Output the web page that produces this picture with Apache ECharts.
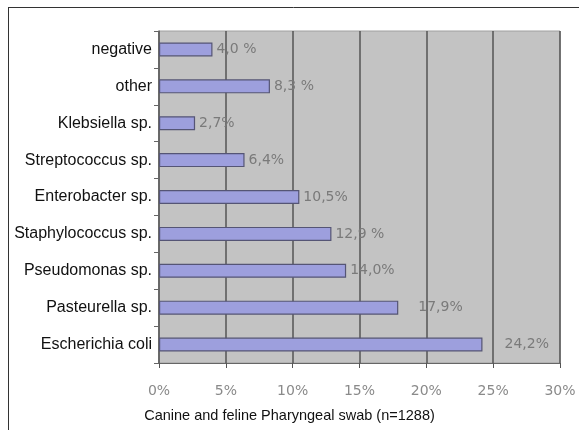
<!DOCTYPE html>
<html><head><meta charset="utf-8">
<script src="https://cdn.jsdelivr.net/npm/echarts@6/dist/echarts.min.js"></script>
<style>html,body{margin:0;padding:0;background:#fff}#c{width:579px;height:430px}</style>
</head><body><div id="c"></div>
<script>
var categories = ["Escherichia coli","Pasteurella sp.","Pseudomonas sp.","Staphylococcus sp.","Enterobacter sp.","Streptococcus sp.","Klebsiella sp.","other","negative"];
var values = [24.2, 17.9, 14.0, 12.9, 10.5, 6.4, 2.7, 8.3, 4.0];
var valueLabels = ["24,2%","17,9%","14,0%","12,9 %","10,5%","6,4%","2,7%","8,3 %","4,0 %"];
var tickLabels = ["0%","5%","10%","15%","20%","25%","30%"];
var xTitle = "Canine and feline Pharyngeal swab (n=1288)";

// label spacing (style only)
var gapStyle = {0: 22, 1: 20};
var seriesData = values.map(function (v, i) {
  var item = {value: v};
  if (gapStyle[i] != null) item.label = {distance: gapStyle[i]};
  return item;
});

var chart = echarts.init(document.getElementById('c'));
chart.setOption({
  animation: false,
  graphic: [
    {type:'line', shape:{x1:8,y1:7.5,x2:579,y2:7.5}, style:{stroke:'#333',lineWidth:1}},
    {type:'line', shape:{x1:8.5,y1:7,x2:8.5,y2:430}, style:{stroke:'#333',lineWidth:1}},
    {type:'text', left:'center', top:408, style:{text:xTitle, font:'14.5px Arial, Liberation Sans, sans-serif', fill:'#111'}}
  ],
  grid: {left:159, right:19, top:31, bottom:67, show:true, backgroundColor:'#c3c3c3', borderColor:'#a0a0a0', borderWidth:1},
  xAxis: {
    type:'value', min:0, max:30, interval:5,
    axisLine:{show:true, lineStyle:{color:'#666'}},
    axisTick:{show:true, length:5, lineStyle:{color:'#555'}},
    axisLabel:{margin:21, color:'#8a8a8a', fontFamily:'DejaVu Sans, Verdana, sans-serif', fontSize:14,
      formatter:function(v){return tickLabels[Math.round(v/5)];}},
    splitLine:{show:true, lineStyle:{color:'#555', width:1.5}}
  },
  yAxis: {
    type:'category', data:categories,
    axisLine:{show:true, lineStyle:{color:'#666', width:1.5}},
    axisTick:{show:true, length:5, lineStyle:{color:'#666'}},
    axisLabel:{margin:7, color:'#111', fontFamily:'Arial, Liberation Sans, sans-serif', fontSize:16}
  },
  series: [{
    type:'bar', data:seriesData, barWidth:14,
    itemStyle:{color:'#9d9fdd', borderColor:'#555575', borderWidth:1.2},
    label:{show:true, position:'right', distance:4, color:'#7a7a7a',
      fontFamily:'DejaVu Sans, Verdana, sans-serif', fontSize:14,
      formatter:function(p){return valueLabels[p.dataIndex];}}
  }]
});
</script></body></html>
